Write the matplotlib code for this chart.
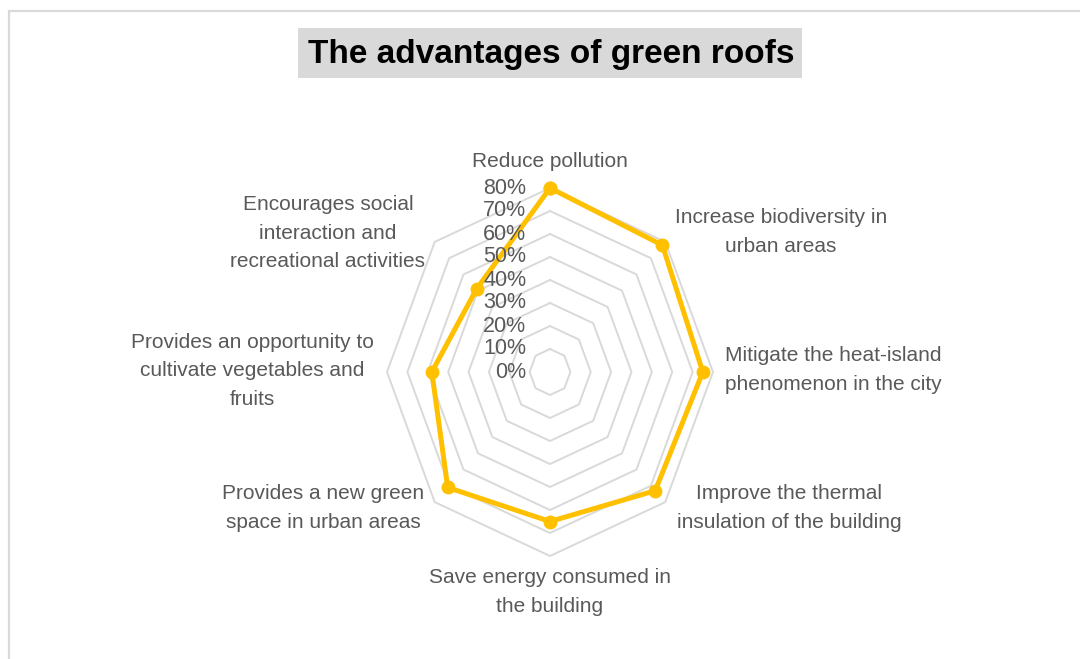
import numpy as np
import matplotlib
matplotlib.use("Agg")
import matplotlib.pyplot as plt
from matplotlib.patches import Rectangle

# ---- data ----
categories = [
    "Reduce pollution",
    "Increase biodiversity in\nurban areas",
    "Mitigate the heat-island\nphenomenon in the city",
    "Improve the thermal\ninsulation of the building",
    "Save energy consumed in\nthe building",
    "Provides a new green\nspace in urban areas",
    "Provides an opportunity to\ncultivate vegetables and\nfruits",
    "Encourages social\ninteraction and\nrecreational activities",
]
values = [0.80, 0.78, 0.75, 0.73, 0.65, 0.71, 0.58, 0.51]
grid_levels = [0.0, 0.1, 0.2, 0.3, 0.4, 0.5, 0.6, 0.7, 0.8]
tick_labels = ["0%", "10%", "20%", "30%", "40%", "50%", "60%", "70%", "80%"]
title = "The advantages of green roofs"

# label anchor positions in pixels (layout only)
label_pos = [(550, 162), (781, 232), (833, 370), (789, 508),
             (550, 592), (323, 508), (252, 371), (328, 233)]

plt.rcParams['font.family'] = ['Liberation Sans', 'DejaVu Sans']
W, H = 1080, 659
fig = plt.figure(figsize=(W / 100, H / 100), dpi=100)

# outer chart frame
fig.patches.append(Rectangle((9 / W, -0.1), 1.2, 1 - 11 / H + 0.1, transform=fig.transFigure,
                             facecolor='white', edgecolor='#D9D9D9', lw=1.6, zorder=-2))

# title with grey box
fig.patches.append(Rectangle((298 / W, 1 - 78 / H), 504 / W, 50 / H, transform=fig.transFigure,
                             facecolor='#D9D9D9', edgecolor='none', zorder=-1))
fig.text(551 / W, 1 - 54 / H, title, ha='center', va='center', fontsize=24,
         fontweight='bold', color='black')

# radar axes (stretched, Excel-like)
cx, cy, rx, ry = 550, 372, 163, 184
ax = fig.add_axes([(cx - rx) / W, 1 - (cy + ry) / H, 2 * rx / W, 2 * ry / H], projection='polar')
ax.set_theta_zero_location('N')
ax.set_theta_direction(-1)
ax.set_ylim(0, 0.8)
ax.set_aspect('auto')
ax.grid(False)
ax.set_xticks([])
ax.set_yticks([])
ax.spines['polar'].set_visible(False)
ax.patch.set_alpha(0)

n = len(categories)
angles = np.linspace(0, 2 * np.pi, n, endpoint=False)
closed = np.append(angles, angles[0])

for lev in grid_levels[1:]:
    ax.plot(closed, [lev] * (n + 1), color='#D9D9D9', lw=1.4, zorder=1, clip_on=False)

ax.plot(closed, values + values[:1], color='#FFC000', lw=3.6, marker='o', markersize=9,
        zorder=3, clip_on=False)

for lev, lab in zip(grid_levels, tick_labels):
    ax.annotate(lab, xy=(0, lev), xytext=(-17, 0), textcoords='offset points',
                ha='right', va='center', fontsize=15.5, color='#595959', zorder=5,
                annotation_clip=False)

for lab, (px, py) in zip(categories, label_pos):
    fig.text(px / W, 1 - py / H, lab, ha='center', va='center', multialignment='center',
             fontsize=15, color='#595959', linespacing=1.62)

fig.savefig("out.png", dpi=100)
